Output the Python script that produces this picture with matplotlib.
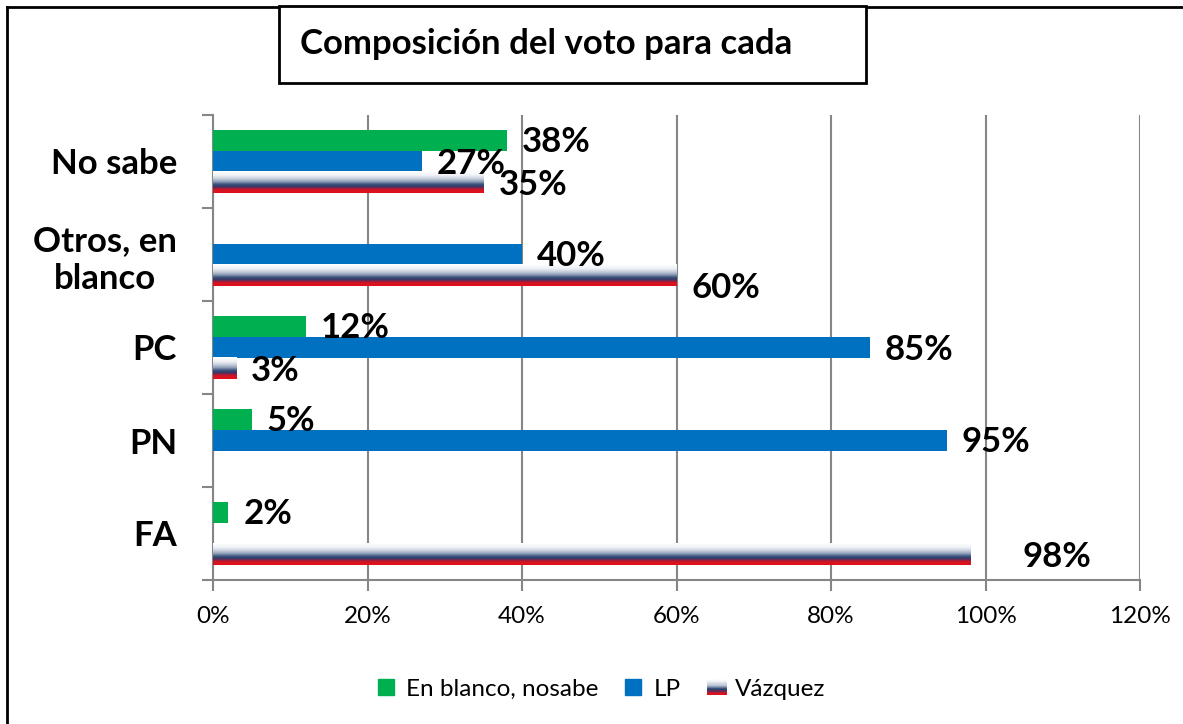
import numpy as np
import matplotlib
matplotlib.use("Agg")
import matplotlib.pyplot as plt
from matplotlib.patches import Rectangle
from matplotlib.lines import Line2D
from matplotlib.legend_handler import HandlerBase
from matplotlib.colors import LinearSegmentedColormap

plt.rcParams['font.family'] = ['Lato', 'DejaVu Sans']

# ---------------- data ----------------
categories = ["FA", "PN", "PC", "Otros, en\nblanco", "No sabe"]
series_names = ["En blanco, nosabe", "LP", "Vázquez"]
en_blanco = [2, 5, 12, np.nan, 38]
lp = [np.nan, 95, 85, 40, 27]
vazquez = [98, np.nan, 3, 60, 35]
x_ticks = [0, 20, 40, 60, 80, 100, 120]
x_tick_labels = ["0%", "20%", "40%", "60%", "80%", "100%", "120%"]
title_text = "Composición del voto para cada"

GREEN = "#00b050"
BLUE = "#0070c0"
GRID = "#868686"

W, H = 1183, 724
fig = plt.figure(figsize=(W / 100, H / 100), dpi=100)

def fx(px):
    return px / W

def fy(py):
    return 1 - py / H

ax = fig.add_axes([fx(213), fy(580), fx(1140) - fx(213), fy(115) - fy(580)])

grad_cmap = LinearSegmentedColormap.from_list(
    "vaz",
    [(0.0, "#ffffff"), (0.20, "#eef0f5"), (0.36, "#c3cad8"), (0.50, "#8294b0"),
     (0.60, "#3f5580"), (0.68, "#2c3f6c"), (0.76, "#6a2a55"), (0.84, "#d01525"),
     (1.0, "#e3101a")])

ypos = np.arange(len(categories))
h = 0.226
off = [h, 0, -h]

bars_g = ax.barh(ypos + off[0], en_blanco, height=h, color=GREEN, zorder=3)
bars_b = ax.barh(ypos + off[1], lp, height=h, color=BLUE, zorder=3)
bars_v = ax.barh(ypos + off[2], vazquez, height=h, color="none", zorder=3)

grad = np.linspace(1, 0, 64).reshape(-1, 1)
for rect in bars_v:
    w = rect.get_width()
    if not np.isfinite(w) or w <= 0:
        continue
    y0 = rect.get_y()
    ax.imshow(grad, cmap=grad_cmap, vmin=0, vmax=1, aspect="auto",
              extent=(0, w, y0, y0 + rect.get_height()), origin="lower",
              zorder=3, interpolation="bilinear")

ax.set_xlim(0, 120)
ax.set_ylim(-0.5, len(categories) - 0.5)

# labels
label_fs = 25
extra = {("v", 0): (37, 0), ("v", 3): (0, -10)}
for key, bars in (("g", bars_g), ("b", bars_b), ("v", bars_v)):
    for i, rect in enumerate(bars):
        w = rect.get_width()
        if not np.isfinite(w) or w <= 0:
            continue
        dx, dy = extra.get((key, i), (0, 0))
        ax.annotate(f"{w:.0f}%", (w, rect.get_y() + rect.get_height() / 2),
                    xytext=(15 + dx, -2 + dy), textcoords="offset pixels",
                    ha="left", va="center", fontsize=label_fs,
                    fontweight="bold", color="black", zorder=5,
                    annotation_clip=False)

# axes styling
ax.set_xticks(x_ticks)
ax.set_xticklabels(x_tick_labels, fontsize=17.5)
ax.xaxis.grid(True, color=GRID, lw=1.5, zorder=0)
ax.set_axisbelow(True)
ax.tick_params(axis="x", length=8, width=1.5, color=GRID, pad=11)
ax.set_yticks(np.arange(len(categories) + 1) - 0.5, minor=False)
ax.set_yticklabels([])
ax.tick_params(axis="y", which="major", length=8, width=1.5, color=GRID)
ax.set_yticks(ypos, minor=True)
ax.set_yticklabels(categories, minor=True, fontsize=25, fontweight="bold",
                   multialignment="center")
ax.tick_params(axis="y", which="minor", length=0, pad=26)
for s in ("top", "right"):
    ax.spines[s].set_visible(False)
for s in ("left", "bottom"):
    ax.spines[s].set_color(GRID)
    ax.spines[s].set_linewidth(1.5)

# legend
class GradHandler(HandlerBase):
    def create_artists(self, legend, orig_handle, xdescent, ydescent,
                       width, height, fontsize, trans):
        n = 14
        arts = []
        for k in range(n):
            c = grad_cmap((k + 0.5) / n)
            r = Rectangle((-xdescent, -ydescent + height * (n - 1 - k) / n),
                          width * 1.25, height / n, facecolor=c, edgecolor="none",
                          transform=trans)
            arts.append(r)
        return arts

class GradProxy:
    pass

handles = [Rectangle((0, 0), 1, 1, color=GREEN),
           Rectangle((0, 0), 1, 1, color=BLUE),
           GradProxy()]
fig.legend(handles, series_names, loc="center", bbox_to_anchor=(fx(602), fy(689)),
           ncol=3, frameon=False, fontsize=17.5, handlelength=0.65,
           handleheight=0.65, handletextpad=0.5, columnspacing=1.1,
           handler_map={GradProxy: GradHandler()})

# title box
fig.patches.append(Rectangle((fx(279), fy(83)), fx(866) - fx(279), fy(6) - fy(83),
                             transform=fig.transFigure, facecolor="white",
                             edgecolor="black", lw=2, zorder=2))
fig.text(fx(300), fy(44), title_text, fontsize=25, fontweight="bold",
         ha="left", va="center", zorder=3)

# outer border
fig.add_artist(Line2D([fx(7), fx(7)], [0, fy(7)], color="black", lw=2))
fig.add_artist(Line2D([fx(7), 1], [fy(7), fy(7)], color="black", lw=2))

fig.savefig("out.png", dpi=100, facecolor="white")
